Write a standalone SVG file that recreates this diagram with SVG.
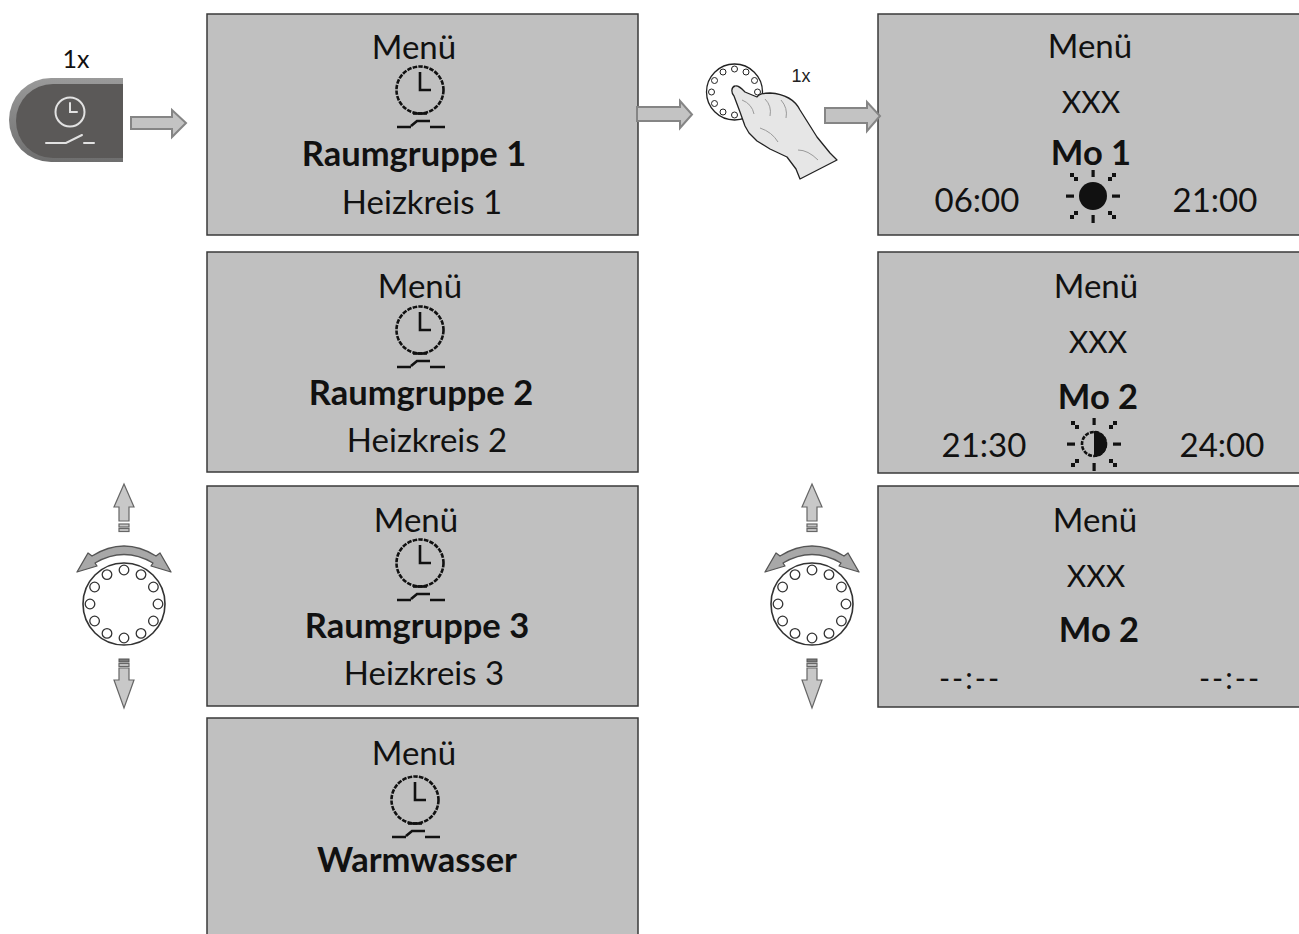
<svg xmlns="http://www.w3.org/2000/svg" width="1299" height="934" viewBox="0 0 1299 934">
  <style>
    .scr { fill: #c0c0c0; stroke: #3a3a3a; stroke-width: 1.5; }
    .t { font-family: Lato, "Open Sans", "Liberation Sans", sans-serif; font-size: 33px; fill: #111; text-anchor: middle; }
    .b { font-weight: bold; font-size: 34.5px; }
    .x { font-size: 30px; }
    .blk { fill: #c3c3c3; stroke: #858585; stroke-width: 2; }
    .icon { fill: none; stroke: #111; stroke-width: 2.6; }
    .kn { fill: #fff; stroke: #333; stroke-width: 1.6; }
    .kd { fill: #fff; stroke: #333; stroke-width: 1.3; }
    .ka { fill: #c8c8c8; stroke: #666; stroke-width: 1.2; }
  </style>
  <defs>
    <linearGradient id="rim" x1="0" y1="0" x2="0" y2="1">
      <stop offset="0" stop-color="#9a9a9a"/>
      <stop offset="1" stop-color="#6e6e6e"/>
    </linearGradient>
    <!-- clock / timer pictogram, centred on the clock face -->
    <g id="clock">
      <circle class="icon" r="23.5" stroke-dasharray="4.5 1.2"/>
      <path class="icon" d="M0,-18 V0 H11"/>
      <path class="icon" d="M-7,23.5 H7" stroke-width="3"/>
      <path class="icon" d="M-23,37 H-9 M-9,36 L-3,31 H10 M10,37 H25" stroke-width="3"/>
    </g>
    <!-- sun rays shared by both sun symbols -->
    <g id="rays" fill="#111">
      <rect x="-1.5" y="-26" width="3.2" height="7"/>
      <rect x="-1.5" y="19" width="3.2" height="8"/>
      <rect x="-27" y="-1.5" width="8" height="3.2"/>
      <rect x="19" y="-1.5" width="8" height="3.2"/>
      <rect x="-23" y="-23" width="4" height="4"/>
      <rect x="-19" y="-19" width="4" height="4"/>
      <rect x="19" y="-23" width="4" height="4"/>
      <rect x="15" y="-19" width="4" height="4"/>
      <rect x="-23" y="19" width="4" height="4"/>
      <rect x="-19" y="15" width="4" height="4"/>
      <rect x="19" y="19" width="4" height="4"/>
      <rect x="15" y="15" width="4" height="4"/>
    </g>
    <!-- rotary knob with up/down and turn arrows -->
    <g id="knob">
      <path class="ka" d="M124,484 L134,507 L129,507 L129,521 L119,521 L119,507 L114,507 Z"/>
      <rect class="ka" x="119" y="524" width="10" height="3"/>
      <rect class="ka" x="119" y="528.5" width="10" height="3"/>
      <path d="M92,556 Q124,536 156,556 L160,553 L171,572 L151,566 L153,563 Q124,546 95,563 L97,566 L77,572 L88,553 Z" fill="#a8a8a8" stroke="#555" stroke-width="1.3" stroke-linejoin="round"/>
      <circle class="kn" cx="124" cy="604" r="41"/>
      <g class="kd">
        <circle cx="124" cy="570" r="4.8"/>
        <circle cx="141" cy="574.6" r="4.8"/>
        <circle cx="153.4" cy="587" r="4.8"/>
        <circle cx="158" cy="604" r="4.8"/>
        <circle cx="153.4" cy="621" r="4.8"/>
        <circle cx="141" cy="633.4" r="4.8"/>
        <circle cx="124" cy="638" r="4.8"/>
        <circle cx="107" cy="633.4" r="4.8"/>
        <circle cx="94.6" cy="621" r="4.8"/>
        <circle cx="90" cy="604" r="4.8"/>
        <circle cx="94.6" cy="587" r="4.8"/>
        <circle cx="107" cy="574.6" r="4.8"/>
      </g>
      <rect x="119" y="659" width="10" height="3" fill="#7a7a7a" stroke="#555" stroke-width="1"/>
      <rect class="ka" x="119" y="663.5" width="10" height="3"/>
      <path class="ka" d="M119,668 H129 V680 H134 L124,708 L114,680 H119 Z"/>
    </g>
  </defs>

  <rect width="1299" height="934" fill="#fff"/>

  <!-- timer key -->
  <g id="node-button">
    <text class="t" x="76" y="68" style="font-size:25px">1x</text>
    <path d="M123,78 H51 A42,42 0 0 0 51,162 H123 Z" fill="url(#rim)"/>
    <path d="M123,84 H53 A37,37 0 0 0 53,158 H123 Z" fill="#5b5958"/>
    <g fill="none" stroke="#e2e2e2" stroke-width="2" stroke-linecap="round">
      <circle cx="70" cy="112" r="14.5"/>
      <path d="M70,103 V112 H77"/>
      <path d="M46,143 H66 L82,135 M84,143 H94"/>
    </g>
  </g>

  <!-- menu screens, left column -->
  <g id="node-rg1">
    <rect class="scr" x="207" y="14" width="431" height="221"/>
    <text class="t" x="414" y="59">Menü</text>
    <use href="#clock" x="420" y="90"/>
    <text class="t b" x="414" y="166">Raumgruppe 1</text>
    <text class="t" x="422" y="214">Heizkreis 1</text>
  </g>
  <g id="node-rg2">
    <rect class="scr" x="207" y="252" width="431" height="220"/>
    <text class="t" x="420" y="298">Menü</text>
    <use href="#clock" x="420" y="330"/>
    <text class="t b" x="421" y="405">Raumgruppe 2</text>
    <text class="t" x="427" y="452">Heizkreis 2</text>
  </g>
  <g id="node-rg3">
    <rect class="scr" x="207" y="486" width="431" height="220"/>
    <text class="t" x="416" y="532">Menü</text>
    <use href="#clock" x="420" y="563"/>
    <text class="t b" x="417" y="638">Raumgruppe 3</text>
    <text class="t" x="424" y="685">Heizkreis 3</text>
  </g>
  <g id="node-ww">
    <rect class="scr" x="207" y="718" width="431" height="230"/>
    <text class="t" x="414" y="765">Menü</text>
    <use href="#clock" x="415" y="800"/>
    <text class="t b" x="417" y="872">Warmwasser</text>
  </g>

  <!-- press the knob once -->
  <g id="node-press">
    <circle cx="734.5" cy="92" r="28" fill="#fff" stroke="#222" stroke-width="1.3"/>
    <g fill="#fff" stroke="#222" stroke-width="1">
      <circle cx="734.5" cy="69" r="3"/>
      <circle cx="746" cy="72" r="3"/>
      <circle cx="754.5" cy="80.5" r="3"/>
      <circle cx="757.5" cy="92" r="3"/>
      <circle cx="723" cy="72" r="3"/>
      <circle cx="714.5" cy="80.5" r="3"/>
      <circle cx="711.5" cy="92" r="3"/>
      <circle cx="714.5" cy="103.5" r="3"/>
      <circle cx="723" cy="112" r="3"/>
      <circle cx="734.5" cy="115" r="3"/>
    </g>
    <path d="M735,86 C731,87 731,93 734,96 L740,112 L745,126 L749,133 L757,141 L770,149 L787,157 L796,169 L800,179 L837,160 L830,153 L817,137 L800,110 C795,100 785,94 770,93 C763,93 759,94 757,97 L745,92 C741,88 738,85 735,86 Z" fill="#e6e6e6" stroke="#222" stroke-width="1.3" stroke-linejoin="round"/>
    <g fill="none" stroke="#9a9a9a" stroke-width="1">
      <path d="M742,100 Q752,104 754,114"/>
      <path d="M765,99 Q772,106 770,116"/>
      <path d="M781,100 Q788,108 786,118"/>
      <path d="M760,128 Q772,132 778,142"/>
      <path d="M798,150 Q808,150 818,160"/>
    </g>
    <text x="801" y="82" font-family="Liberation Sans, Arial, sans-serif" font-size="18" fill="#222" text-anchor="middle">1x</text>
  </g>

  <!-- program screens, right column -->
  <g id="node-mo1">
    <rect class="scr" x="878" y="14" width="430" height="221"/>
    <text class="t" x="1090" y="58">Menü</text>
    <text class="t x" x="1091" y="113">XXX</text>
    <text class="t b" x="1091" y="165">Mo 1</text>
    <text class="t" x="977" y="212">06:00</text>
    <g transform="translate(1093,196)">
      <use href="#rays"/>
      <circle r="14" fill="#111"/>
    </g>
    <text class="t" x="1215" y="212">21:00</text>
  </g>
  <g id="node-mo2a">
    <rect class="scr" x="878" y="252" width="430" height="221"/>
    <text class="t" x="1096" y="298">Menü</text>
    <text class="t x" x="1098" y="353">XXX</text>
    <text class="t b" x="1098" y="409">Mo 2</text>
    <text class="t" x="984" y="457">21:30</text>
    <g transform="translate(1094,444)">
      <use href="#rays"/>
      <circle r="12" fill="none" stroke="#111" stroke-width="2.6" stroke-dasharray="4 1.2"/>
      <path d="M0,-13 A13,13 0 0 1 0,13 Z" fill="#111"/>
    </g>
    <text class="t" x="1222" y="457">24:00</text>
  </g>
  <g id="node-mo2b">
    <rect class="scr" x="878" y="486" width="430" height="221"/>
    <text class="t" x="1095" y="532">Menü</text>
    <text class="t x" x="1096" y="587">XXX</text>
    <text class="t b" x="1099" y="642">Mo 2</text>
    <text class="t x" x="970" y="689" style="letter-spacing:2px">--:--</text>
    <text class="t x" x="1230" y="689" style="letter-spacing:2px">--:--</text>
  </g>

  <!-- rotary knobs -->
  <g id="node-knob-left">
    <use href="#knob"/>
  </g>
  <g id="node-knob-right">
    <use href="#knob" x="688"/>
  </g>

  <!-- connectors -->
  <g id="connectors">
    <path class="blk" d="M131,117 H172 V110 L186,123 L172,137 V129 H131 Z"/>
    <path class="blk" d="M637,107 H680 V101 L692,114.5 L680,128 V121 H637 Z"/>
    <path class="blk" d="M825,108 H867 V102 L880,116 L867,131 V123 H825 Z"/>
  </g>
</svg>
